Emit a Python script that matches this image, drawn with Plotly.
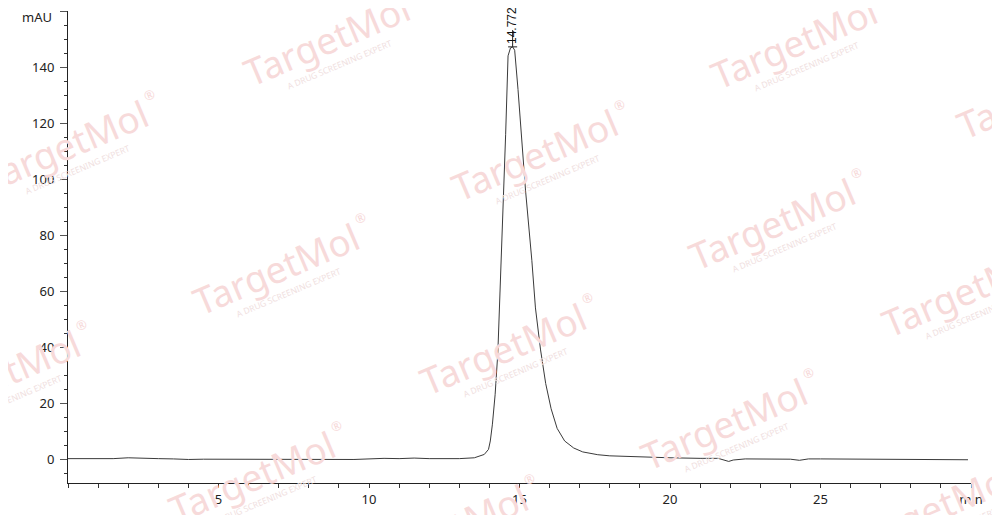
import plotly.graph_objects as go

# === DATA ===
time_min = [0.0, 0.5, 1.0, 1.5, 2.0, 2.3, 2.6, 3.0, 3.5, 4.0, 4.5, 5.0, 5.5, 6.0, 6.5,
            7.0, 7.5, 8.0, 8.5, 9.0, 9.5, 10.0, 10.5, 11.0, 11.5, 12.0, 12.5, 13.0,
            13.5, 13.83, 13.97, 14.03, 14.1, 14.19, 14.28, 14.38, 14.46, 14.54, 14.62,
            14.7, 14.772, 14.84, 14.95, 15.06, 15.2, 15.41, 15.53, 15.7, 15.87, 16.05,
            16.25, 16.5, 16.8, 17.1, 17.6, 18.0, 19.0, 20.0, 21.0, 21.6, 21.95, 22.1,
            22.5, 23.0, 23.5, 24.0, 24.3, 24.6, 25.0, 26.0, 27.0, 28.0, 29.0, 29.9]
signal_mau = [0.2, 0.2, 0.1, 0.2, 0.5, 0.4, 0.1, 0.2, 0.1, -0.1, 0.0, 0.0, -0.1, 0.0, -0.2,
              -0.1, -0.2, -0.1, -0.2, -0.2, -0.1, 0.1, 0.3, 0.2, 0.4, 0.2, 0.1, 0.2,
              0.5, 1.7, 3.5, 6.5, 12.5, 23.0, 38.0, 66.0, 90.0, 116.0, 144.0,
              146.8, 147.2, 146.0, 132.0, 116.0, 96.0, 71.0, 54.0, 39.0, 27.0, 18.0,
              11.0, 6.5, 4.0, 2.6, 1.6, 1.2, 0.8, 0.5, 0.3, 0.3, -0.8, -0.3,
              0.1, 0.1, 0.0, 0.0, -0.4, 0.1, 0.1, 0.0, -0.1, -0.1, -0.2, -0.2]

peak_rt = 14.772
peak_height = 147.2

x_tickvals = [5, 10, 15, 20, 25, 30]
x_ticktext = ["5", "10", "15", "20", "25", "min"]
y_tickvals = [0, 20, 40, 60, 80, 100, 120, 140, 160]
y_ticktext = ["0", "20", "40", "60", "80", "100", "120", "140", ""]
y_unit = "mAU"

# === FIGURE ===
# the page body has an 8px margin; keep the figure inside the window so nothing scrolls
OFF = 8
W, H = 984, 507
L, R, T, B = 60, 21, 3, 32

fig = go.Figure()
fig.add_trace(go.Scatter(
    x=time_min, y=signal_mau, mode="lines",
    line=dict(color="#3a3a3a", width=1),
    hoverinfo="skip", showlegend=False,
))

# watermarks (window pixel centres of the word "TargetMol")
wm_centres = [(327, 40), (794, 42), (65, 145), (535, 155), (1040, 92),
              (276, 268), (772, 223), (-3, 375), (503, 348), (965, 290),
              (252, 476), (724, 423), (445, 529), (932, 508)]


def px_to_paper(px, py):
    px, py = px - OFF, py - OFF
    return (px - L) / (W - L - R), (H - B - py) / (H - T - B)


annotations = []
for cx, cy in wm_centres:
    for dx, dy, txt, size, col in [
        (0, 0, "TargetMol", 37, "#f7dada"),
        (12, 24, "A DRUG SCREENING EXPERT", 8.5, "#f0e0e0"),
        (84, -50, "®", 13, "#f7dada"),
    ]:
        ax, ay = px_to_paper(cx + dx, cy + dy)
        annotations.append(dict(
            x=ax, y=ay, xref="paper", yref="paper", text=txt, showarrow=False,
            textangle=-23, xanchor="center", yanchor="middle",
            font=dict(family="Noto Sans", size=size, color=col),
        ))

axis_font = dict(family="Noto Sans", size=13, color="#222")

# unit label at the top of the y axis
annotations.append(dict(
    x=0, y=157.7, xref="paper", yref="y", text=y_unit, showarrow=False,
    xanchor="right", yanchor="middle", xshift=-14, font=axis_font,
))

# retention time label at the apex
annotations.append(dict(
    x=peak_rt, y=peak_height, xref="x", yref="y", text=f"{peak_rt:.3f}",
    showarrow=False, textangle=-90, xanchor="center", yanchor="bottom", yshift=1,
    font=dict(family="Liberation Sans", size=12, color="#111"),
))

fig.add_shape(type="line", x0=peak_rt, x1=peak_rt, y0=peak_height, y1=peak_height + 6,
              xref="x", yref="y", line=dict(color="#222", width=1))
fig.add_shape(type="line", x0=peak_rt - 0.15, x1=peak_rt + 0.15, y0=peak_height, y1=peak_height,
              xref="x", yref="y", line=dict(color="#222", width=1))

fig.update_layout(
    width=W, height=H,
    margin=dict(l=L, r=R, t=T, b=B, autoexpand=False),
    paper_bgcolor="white", plot_bgcolor="white",
    annotations=annotations,
    xaxis=dict(
        range=[0, 30], showgrid=False, zeroline=False, automargin=False,
        showline=True, linecolor="#222", linewidth=1,
        tickmode="array", tickvals=x_tickvals, ticktext=x_ticktext,
        ticks="outside", ticklen=4, tickcolor="#333", tickfont=axis_font,
        minor=dict(dtick=1, tick0=0, ticks="outside", ticklen=4, tickcolor="#333"),
    ),
    yaxis=dict(
        range=[-8.5, 160], showgrid=False, zeroline=False, automargin=False,
        showline=True, linecolor="#222", linewidth=1,
        tickmode="array", tickvals=y_tickvals, ticktext=y_ticktext,
        ticks="outside", ticklen=7, tickcolor="#555", tickfont=axis_font,
        ticklabelstandoff=3,
        minor=dict(dtick=5, tick0=0, ticks="outside", ticklen=3, tickcolor="#333"),
    ),
)

fig.write_html("out.html")
